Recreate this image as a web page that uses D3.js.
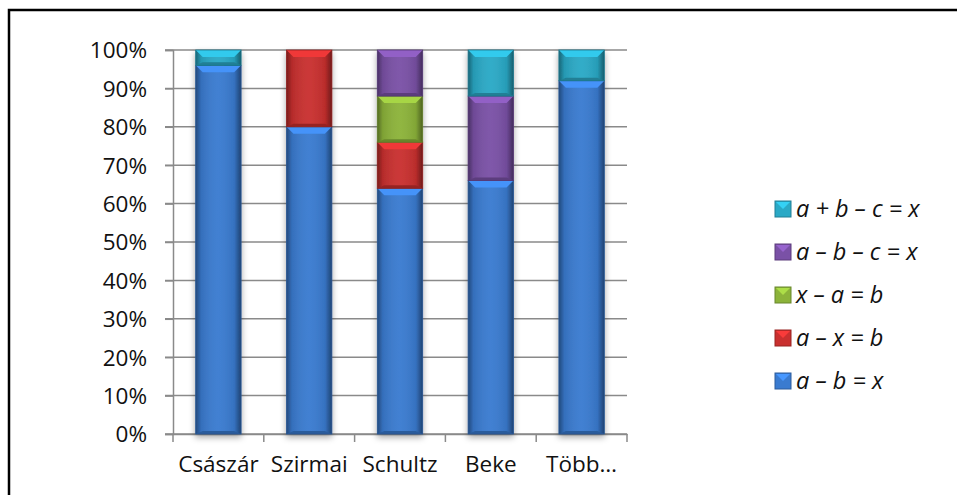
<!DOCTYPE html>
<html><head><meta charset="utf-8">
<script src="https://cdn.jsdelivr.net/npm/d3@7"></script>
<style>body{margin:0;background:#fff}svg{display:block}text{font-family:"Open Sans",Lato,sans-serif}</style>
</head><body>
<svg id="c" width="957" height="495"></svg>
<script>
const categories = ["Császár", "Szirmai", "Schultz", "Beke", "Több…"];
const seriesNames = ["a – b = x", "a – x = b", "x – a = b", "a – b – c = x", "a + b – c = x"];
const s1 = [96, 80, 64, 66, 92];
const s2 = [0, 20, 12, 0, 0];
const s3 = [0, 0, 12, 0, 0];
const s4 = [0, 0, 12, 22, 0];
const s5 = [4, 0, 0, 12, 8];
const yTicks = [0,10,20,30,40,50,60,70,80,90,100];
const colors = ["#3a7bd0", "#c9302f", "#8cb33a", "#7a51a6", "#2aa9c6"];

const svg = d3.select("#c");
const seriesVals = [s1, s2, s3, s4, s5];
const rows = categories.map((c, i) => {
  const r = {cat: c};
  seriesNames.forEach((n, k) => r[n] = seriesVals[k][i]);
  return r;
});
const stack = d3.stack().keys(seriesNames)(rows);

const x = d3.scaleBand().domain(categories).range([173, 627]).paddingInner(0.5).paddingOuter(0.25);
const y = d3.scaleLinear().domain([0, 100]).range([434, 50]);

const defs = svg.append("defs");
const f = defs.append("filter").attr("id","sh").attr("x","-30%").attr("y","-10%").attr("width","160%").attr("height","130%");
f.append("feDropShadow").attr("dx",0).attr("dy",3).attr("stdDeviation",3).attr("flood-color","#000").attr("flood-opacity",0.35);
const g1 = defs.append("linearGradient").attr("id","hg").attr("x1",0).attr("x2",1).attr("y1",0).attr("y2",0);
[[0,"#000",0.4],[0.12,"#000",0.1],[0.5,"#fff",0.04],[0.85,"#000",0.08],[1,"#000",0.45]].forEach(s=>g1.append("stop").attr("offset",s[0]).attr("stop-color",s[1]).attr("stop-opacity",s[2]));

// frame
svg.append("path").attr("d","M9,495 V10 H957").attr("fill","none").attr("stroke","#000").attr("stroke-width",2.5);

// gridlines
svg.append("g").selectAll("line").data(yTicks).join("line")
  .attr("x1",165).attr("x2",627).attr("y1",d=>y(d)).attr("y2",d=>y(d))
  .attr("stroke","#8a8a8a").attr("stroke-width",1.5);

// axes
const ya = svg.append("g").attr("transform","translate(173,0)")
  .call(d3.axisLeft(y).tickValues(yTicks).tickFormat(d=>d+"%").tickSize(8).tickPadding(18));
ya.select(".domain").attr("stroke","#8a8a8a").attr("stroke-width",1.5);
ya.selectAll(".tick line").attr("stroke","#8a8a8a").attr("stroke-width",1.5);
ya.selectAll("text").attr("font-size",22.5).attr("fill","#111").attr("dy","0.35em");

const xa = svg.append("g").attr("transform","translate(0,434)")
  .call(d3.axisBottom(x).tickSize(0).tickPadding(22));
xa.select(".domain").attr("stroke","#8a8a8a").attr("stroke-width",1.5);
xa.selectAll("text").attr("font-size",22.5).attr("fill","#111");
const edges = categories.map(c => x(c) - x.step()*x.paddingInner()/2).concat([627]);
xa.selectAll(".bt").data(edges).join("line").attr("class","bt")
  .attr("x1",d=>d).attr("x2",d=>d).attr("y1",0).attr("y2",8).attr("stroke","#8a8a8a").attr("stroke-width",1.5);

// bars
const bw = x.bandwidth();
const b = 7;
const barG = svg.append("g");
categories.forEach((c, i) => {
  const segs = stack.map((s, k) => ({k, y0: s[i][0], y1: s[i][1]})).filter(d => d.y1 > d.y0);
  const gb = barG.append("g").attr("filter","url(#sh)");
  segs.forEach(d => {
    const x0 = x(c), x1 = x0 + bw, t = y(d.y1), bt = y(d.y0);
    const col = colors[d.k];
    const g = gb.append("g");
    g.append("rect").attr("x",x0).attr("y",t).attr("width",bw).attr("height",bt-t).attr("fill",col);
    g.append("rect").attr("x",x0).attr("y",t).attr("width",bw).attr("height",bt-t).attr("fill","url(#hg)");
    g.append("polygon").attr("points",[[x0,t],[x1,t],[x1-b,t+b],[x0+b,t+b]].join(" "))
      .attr("fill",d3.color(col).brighter(0.5));
    g.append("polygon").attr("points",[[x0,bt],[x1,bt],[x1-b,bt-3],[x0+b,bt-3]].join(" "))
      .attr("fill",d3.color(col).darker(0.8));
    g.append("rect").attr("x",x0).attr("y",t).attr("width",bw).attr("height",bt-t)
      .attr("fill","none").attr("stroke",d3.color(col).darker(1)).attr("stroke-width",0.8);
  });
});

// legend
const legOrder = seriesNames.map((n,k)=>k).reverse();
const lg = svg.append("g").selectAll("g").data(legOrder).join("g")
  .attr("transform",(d,j)=>`translate(775,${209 + j*43})`);
lg.append("rect").attr("x",0).attr("y",-8).attr("width",16).attr("height",16)
  .attr("fill",d=>colors[d]).attr("stroke",d=>d3.color(colors[d]).darker(0.8)).attr("stroke-width",1);
lg.append("polygon").attr("points","1,-7 15,-7 8,0").attr("fill",d=>d3.color(colors[d]).brighter(0.6));
lg.append("text").attr("x",21).attr("y",0).attr("dy","0.35em").attr("font-size",23.5)
  .attr("font-style","italic").attr("fill","#111").text(d=>seriesNames[d]);
</script>
</body></html>
